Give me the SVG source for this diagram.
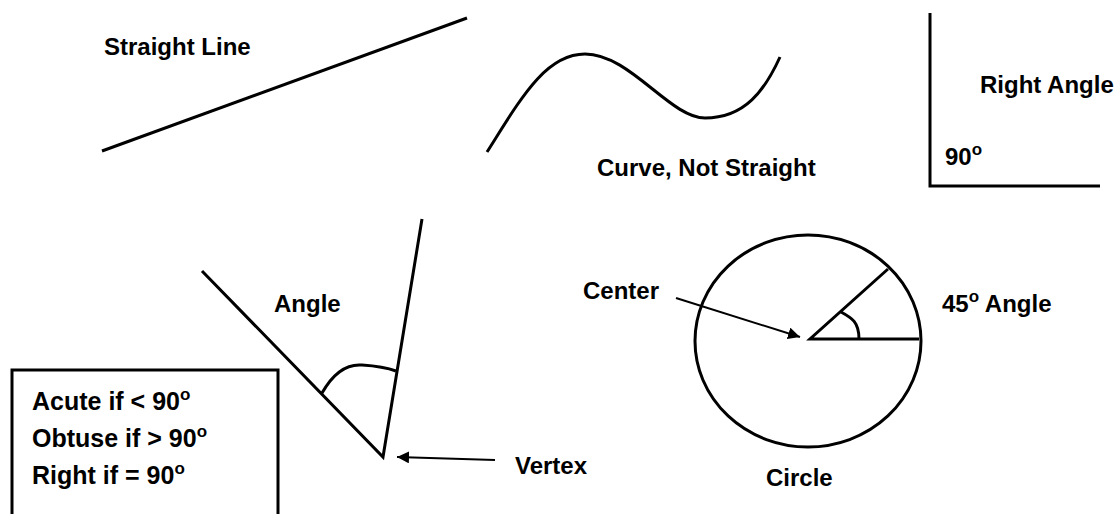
<svg xmlns="http://www.w3.org/2000/svg" width="1118" height="514" viewBox="0 0 1118 514">
<style>
.ln{fill:none;stroke:#000;stroke-width:3;stroke-linecap:butt}
.thin{fill:none;stroke:#000;stroke-width:2}
text{font-family:"Liberation Sans",Arial,sans-serif;font-weight:bold;font-size:24px;fill:#000}
.box{font-size:25px}
.sup{font-size:17px}
</style>
<defs>
<marker id="ah" viewBox="0 0 10 10" refX="10" refY="5" markerWidth="6" markerHeight="6" orient="auto" markerUnits="strokeWidth">
<path d="M0,0 L10,5 L0,10 z" fill="#000"/>
</marker>
</defs>
<rect width="1118" height="514" fill="#fff"/>
<g id="straight-line">
<line class="ln" x1="102" y1="151" x2="467" y2="18"/>
<text x="104" y="55">Straight Line</text>
</g>
<g id="curve">
<path class="ln" d="M487,152 C520,100 545,54 585,54 C630,54 670,118 705,118 C745,118 765,90 780,57"/>
<text x="597" y="176">Curve, Not Straight</text>
</g>
<g id="right-angle">
<path class="ln" d="M930,13 L930,186 L1100,186"/>
<text x="980" y="93">Right Angle</text>
<text x="945" y="165">90<tspan class="sup" dy="-10">o</tspan></text>
</g>
<g id="angle">
<path class="ln" d="M202,271 L383,457 L422,219"/>
<path class="ln" d="M322,393 C335,370 350,364 362,365 C378,366 388,368 396,371"/>
<text x="274" y="312">Angle</text>
</g>
<g id="vertex-label">
<text x="515" y="474">Vertex</text>
</g>
<g id="rules-box">
<rect class="ln" x="12" y="370" width="266" height="160"/>
<text class="box" x="32" y="410">Acute if &lt; 90<tspan class="sup" dy="-10">o</tspan></text>
<text class="box" x="32" y="447">Obtuse if &gt; 90<tspan class="sup" dy="-10">o</tspan></text>
<text class="box" x="32" y="484">Right if = 90<tspan class="sup" dy="-10">o</tspan></text>
</g>
<g id="circle">
<ellipse class="ln" cx="808" cy="341" rx="113" ry="106"/>
<path class="ln" d="M888,269 L810,339 L919,339"/>
<path class="ln" d="M841,312 C852,318 859,322 859,339"/>
<text x="766" y="486">Circle</text>
<text x="942" y="312">45<tspan class="sup" dy="-10">o</tspan><tspan dy="10"> Angle</tspan></text>
</g>
<g id="center-label">
<text x="583" y="299">Center</text>
</g>
<g id="connectors">
<line class="thin" x1="676" y1="298" x2="800" y2="337" marker-end="url(#ah)"/>
<line class="thin" x1="495" y1="460" x2="397" y2="457" marker-end="url(#ah)"/>
</g>
</svg>
